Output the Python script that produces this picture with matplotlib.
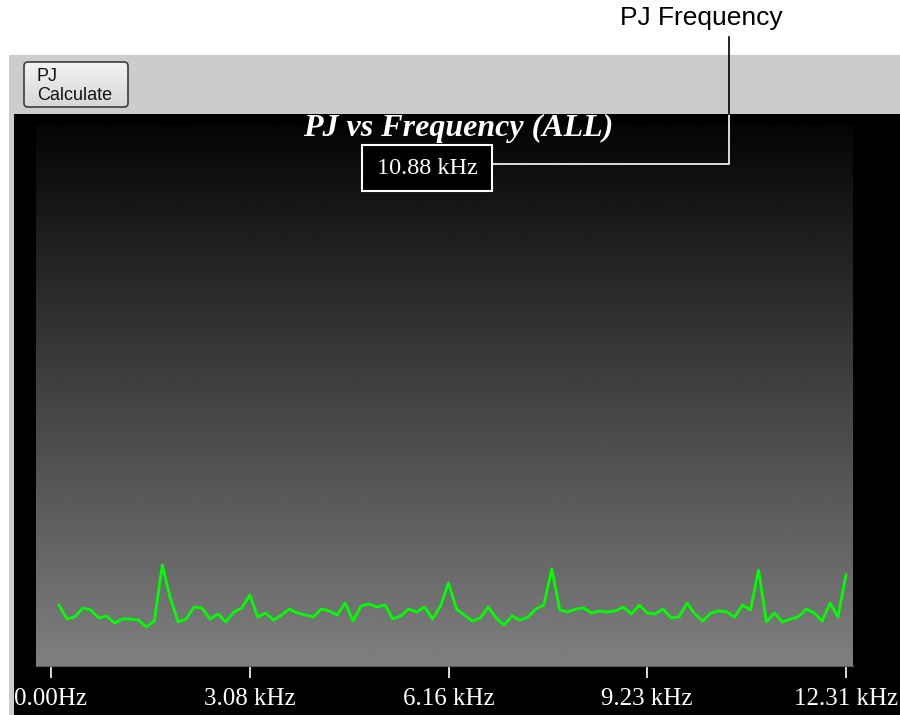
import numpy as np
import matplotlib.pyplot as plt
from matplotlib.patches import Rectangle, FancyBboxPatch

# spectrum samples (kHz) and periodic jitter per bin
freq_khz = np.linspace(0.1231, 12.31, 100)
pj = [6.1, 4.7, 4.9, 5.8, 5.6, 4.8, 5.0, 4.3, 4.7, 4.7,
      4.6, 3.9, 4.5, 10.1, 6.8, 4.4, 4.7, 5.9, 5.8, 4.7,
      5.2, 4.4, 5.4, 5.8, 7.1, 4.9, 5.3, 4.6, 5.1, 5.7,
      5.3, 5.1, 4.9, 5.7, 5.5, 5.1, 6.3, 4.5, 6.0, 6.2,
      5.9, 6.1, 4.7, 5.0, 5.7, 5.4, 5.9, 4.7, 6.0, 8.3,
      5.7, 5.1, 4.5, 4.8, 5.9, 4.8, 4.1, 5.0, 4.6, 4.9,
      5.7, 6.1, 9.7, 5.6, 5.4, 5.7, 5.8, 5.3, 5.5, 5.4,
      5.5, 5.9, 5.2, 6.1, 5.3, 5.2, 5.7, 4.8, 4.9, 6.3,
      5.2, 4.5, 5.3, 5.5, 5.4, 4.9, 6.1, 5.6, 9.6, 4.4,
      5.3, 4.4, 4.7, 4.9, 5.7, 5.3, 4.5, 6.3, 4.9, 9.1]

tick_khz = [0.0, 3.08, 6.16, 9.23, 12.31]
tick_labels = ["0.00Hz", "3.08 kHz", "6.16 kHz", "9.23 kHz", "12.31 kHz"]
title = "PJ vs Frequency (ALL)"
readout = "10.88 kHz"
callout = "PJ Frequency"

W, H = 900, 715
fig = plt.figure(figsize=(W / 100, H / 100), dpi=100, facecolor="white")


def px_axes(z):
    # overlay axes in pixel coordinates, origin top-left
    a = fig.add_axes([0, 0, 1, 1], zorder=z)
    a.set_xlim(0, W)
    a.set_ylim(H, 0)
    a.set_axis_off()
    a.patch.set_alpha(0)
    return a


# panel background
bg = px_axes(0)
bg.add_patch(Rectangle((9, 55), W - 9, H - 55, facecolor="#cccccc", edgecolor="none"))
bg.add_patch(Rectangle((14, 114), W - 14, H - 114, facecolor="black", edgecolor="none"))

# "PJ Calculate" button
btn = FancyBboxPatch((24, 62), 104, 45, boxstyle="round,pad=0,rounding_size=4",
                     facecolor="none", edgecolor="#3c3c3c", lw=1.2, zorder=3)
bg.add_patch(btn)
btn_shade = np.linspace(0.95, 0.84, 64).reshape(-1, 1)
im = bg.imshow(btn_shade, cmap="gray", vmin=0, vmax=1, extent=(24, 128, 107, 62),
               aspect="auto", interpolation="bilinear", zorder=2)
im.set_clip_path(btn)
bg.set_xlim(0, W)
bg.set_ylim(H, 0)
bg.text(37, 81, "PJ", fontsize=13, family="Liberation Sans", color="#111111", va="baseline")
bg.text(37, 100, "Calculate", fontsize=13, family="Liberation Sans", color="#111111", va="baseline")

# plot area
x0, x1, y0, y1 = 36, 853, 125, 666
ax = fig.add_axes([x0 / W, 1 - y1 / H, (x1 - x0) / W, (y1 - y0) / H], zorder=1)
xlim = (-0.232, 12.419)
ylim = (0, 54.1)
shade = np.linspace(0.02, 0.5, 256).reshape(-1, 1)
ax.imshow(shade, cmap="gray", vmin=0, vmax=1, extent=(*xlim, *ylim),
          aspect="auto", origin="upper", interpolation="bilinear")
ax.plot(freq_khz, pj, color="#00ff00", lw=2)
ax.set_xlim(*xlim)
ax.set_ylim(*ylim)
ax.set_yticks([])
ax.set_xticks(tick_khz, tick_labels)
ax.tick_params(axis="x", colors="white", length=8.6, width=1.2, pad=7, labelsize=18)
for lbl in ax.get_xticklabels():
    lbl.set_family("Liberation Serif")
for side in ["top", "left", "right"]:
    ax.spines[side].set_visible(False)
ax.spines["bottom"].set_color("#5c5c5c")

# title, frequency readout and callout
fg = px_axes(3)
fg.text(458, 128, title, color="white", fontsize=23, fontweight="bold", fontstyle="italic",
        family="Liberation Serif", ha="center", va="center")
fg.add_patch(Rectangle((362, 145), 130, 46, facecolor="black", edgecolor="white", lw=1.5))
fg.text(427, 168, readout, color="white", fontsize=17.5, family="Liberation Serif",
        ha="center", va="center")
fg.plot([492, 729, 729], [164, 164, 114], color="white", lw=1.2)
fg.plot([729, 729], [114, 37], color="black", lw=1.2)
fg.text(701, 18, callout, fontsize=19, family="Liberation Sans", color="black",
        ha="center", va="center")

fig.savefig("out.png", dpi=100)
